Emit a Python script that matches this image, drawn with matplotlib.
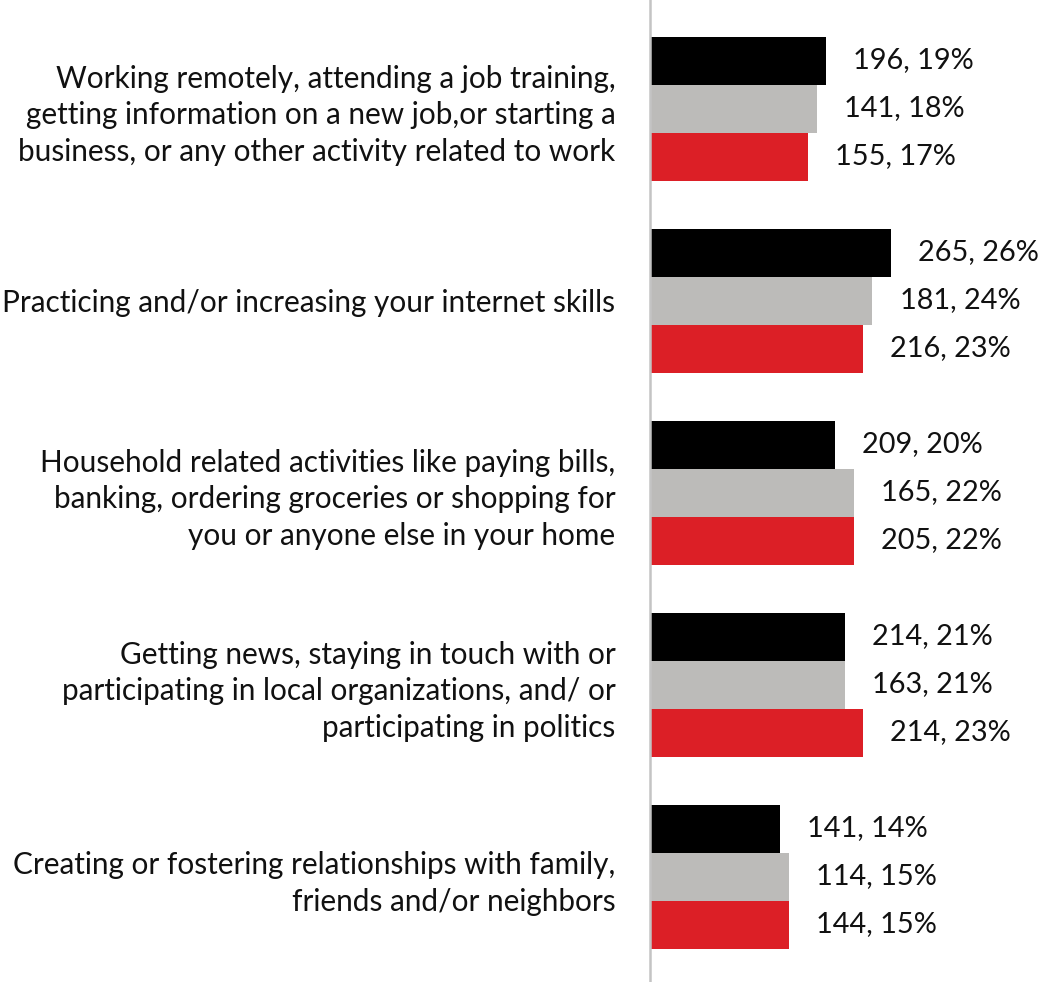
import numpy as np
import matplotlib
matplotlib.use("Agg")
import matplotlib.pyplot as plt

# Activities and the three respondent series (count, percent)
categories = [
    "Working remotely, attending a job training,\ngetting information on a new job,or starting a\nbusiness, or any other activity related to work",
    "Practicing and/or increasing your internet skills",
    "Household related activities like paying bills,\nbanking, ordering groceries or shopping for\nyou or anyone else in your home",
    "Getting news, staying in touch with or\nparticipating in local organizations, and/ or\nparticipating in politics",
    "Creating or fostering relationships with family,\nfriends and/or neighbors",
]
black_counts = [196, 265, 209, 214, 141]
black_pcts = [19, 26, 20, 21, 14]
gray_counts = [141, 181, 165, 163, 114]
gray_pcts = [18, 24, 22, 21, 15]
red_counts = [155, 216, 205, 214, 144]
red_pcts = [17, 23, 22, 23, 15]

series = [
    (black_counts, black_pcts, "#000000"),
    (gray_counts, gray_pcts, "#bcbbb9"),
    (red_counts, red_pcts, "#dc1f26"),
]

W, H = 1040, 982
fig = plt.figure(figsize=(W / 100, H / 100), dpi=100)
ax = fig.add_axes([650 / W, 0, 390 / W, 1])

bar_h = 0.25
y = np.arange(len(categories))
for k, (counts, pcts, color) in enumerate(series):
    ypos = y + (k - 1) * bar_h
    ax.barh(ypos, pcts, height=bar_h, color=color, edgecolor="none")
    for yy, n, p in zip(ypos, counts, pcts):
        ax.annotate(f"{n}, {p}%", xy=(p, yy), xytext=(19.5, 0),
                    textcoords="offset points", va="center", ha="left",
                    fontsize=20.8, family="Lato", color="#111111")

ax.set_xlim(0, 390 / 9.27)
ax.set_ylim(4 + 105.5 / 192, -108.5 / 192)

ax.set_yticks(y)
ax.set_yticklabels(categories, fontsize=21.4, family="Lato", color="#111111")
for lbl in ax.get_yticklabels():
    lbl.set_linespacing(1.39)
ax.tick_params(axis="y", length=0, pad=25)
ax.set_xticks([])

for s in ["top", "right", "bottom"]:
    ax.spines[s].set_visible(False)
ax.spines["left"].set_color("#c4c4c4")
ax.spines["left"].set_linewidth(1.8)

fig.savefig("out.png", dpi=100)
